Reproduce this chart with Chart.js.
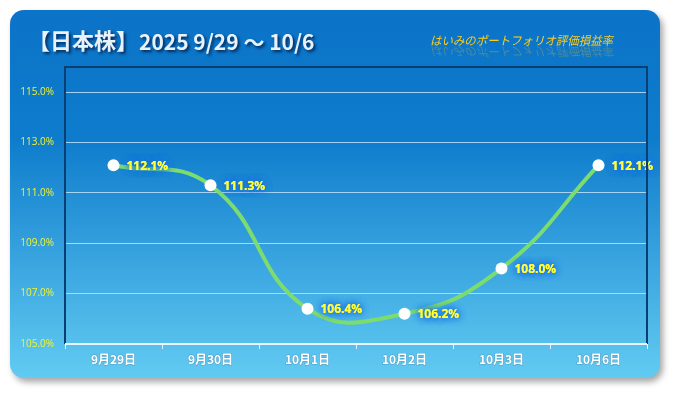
<!DOCTYPE html>
<html>
<head>
<meta charset="utf-8">
<script src="https://cdn.jsdelivr.net/npm/chart.js@4.4.1/dist/chart.umd.min.js"></script>
<style>
  html, body { margin: 0; padding: 0; background: #fff; }
  #wrap { width: 675px; height: 393px; }
</style>
</head>
<body>
<div id="wrap"><canvas id="chart" width="675" height="393"></canvas></div>
<script>
const labels = ['9月29日', '9月30日', '10月1日', '10月2日', '10月3日', '10月6日'];
const values = [112.1, 111.3, 106.4, 106.2, 108.0, 112.1];
const yTicks = [105, 107, 109, 111, 113, 115];

const titleText = '【日本株】2025 9/29 〜 10/6';
const subText = 'はいみのポートフォリオ評価損益率';

function roundRect(ctx, x, y, w, h, r) {
  ctx.beginPath();
  ctx.moveTo(x + r, y);
  ctx.arcTo(x + w, y, x + w, y + h, r);
  ctx.arcTo(x + w, y + h, x, y + h, r);
  ctx.arcTo(x, y + h, x, y, r);
  ctx.arcTo(x, y, x + w, y, r);
  ctx.closePath();
}

// card background + titles
const cardPlugin = {
  id: 'card',
  beforeDraw(chart) {
    const ctx = chart.ctx;
    ctx.save();
    ctx.shadowColor = 'rgba(0,0,0,0.35)';
    ctx.shadowBlur = 6;
    ctx.shadowOffsetX = 3;
    ctx.shadowOffsetY = 4;
    const g = ctx.createLinearGradient(0, 10, 0, 378);
    g.addColorStop(0, '#0b73c8');
    g.addColorStop(0.35, '#0e7ccc');
    g.addColorStop(1, '#62cbf2');
    ctx.fillStyle = g;
    roundRect(ctx, 10, 10, 650, 368, 14);
    ctx.fill();
    ctx.restore();

    // title: brackets part + condensed date part
    ctx.save();
    ctx.textBaseline = 'middle';
    ctx.shadowColor = 'rgba(0,20,60,0.8)';
    ctx.shadowBlur = 3;
    ctx.shadowOffsetX = 2;
    ctx.shadowOffsetY = 2;
    ctx.fillStyle = '#e8f2fa';
    ctx.font = 'bold 22px "Noto Sans CJK JP"';
    ctx.fillText('【日本株】', 28, 41);
    ctx.font = 'bold 21px "Noto Sans CJK JP"';
    ctx.fillText(titleText.replace('【日本株】', ''), 139, 42, 182);
    ctx.restore();

    // subtitle with reflection
    ctx.save();
    ctx.font = 'italic 12px "Noto Sans CJK JP"';
    ctx.textBaseline = 'alphabetic';
    ctx.fillStyle = '#ffcc1a';
    ctx.fillText(subText, 430, 45, 183);
    ctx.translate(0, 92);
    ctx.scale(1, -1);
    ctx.globalAlpha = 0.25;
    ctx.fillText(subText, 430, 45, 183);
    ctx.restore();
  },
  afterDraw(chart) {
    const ctx = chart.ctx;
    const a = chart.chartArea;
    ctx.save();
    ctx.strokeStyle = '#0b3f73';
    ctx.lineWidth = 2;
    ctx.beginPath();
    ctx.moveTo(a.left, a.bottom);
    ctx.lineTo(a.left, a.top);
    ctx.lineTo(a.right, a.top);
    ctx.lineTo(a.right, a.bottom);
    ctx.stroke();
    ctx.strokeStyle = '#e8f6ff';
    ctx.beginPath();
    ctx.moveTo(a.left, a.bottom);
    ctx.lineTo(a.right, a.bottom);
    ctx.stroke();
    ctx.restore();
  }
};

// value labels to the right of each point
const valueLabels = {
  id: 'valueLabels',
  afterDatasetsDraw(chart) {
    const ctx = chart.ctx;
    const meta = chart.getDatasetMeta(0);
    ctx.save();
    ctx.font = 'bold 12px "Open Sans"';
    ctx.textBaseline = 'middle';
    meta.data.forEach((pt, i) => {
      const txt = values[i].toFixed(1) + '%';
      const x = pt.x + 13, y = pt.y + 1;
      ctx.shadowColor = '#1f6fe6';
      ctx.shadowBlur = 7;
      ctx.fillStyle = '#ffff33';
      for (let k = 0; k < 3; k++) ctx.fillText(txt, x, y);
    });
    ctx.restore();
  }
};

// drop shadow on the x labels
const xLabelShadow = {
  id: 'xLabelShadow',
  beforeDraw(chart) {
    chart.scales.x._shadowed = true;
  }
};

new Chart(document.getElementById('chart').getContext('2d'), {
  type: 'line',
  data: {
    labels,
    datasets: [{
      data: values,
      borderColor: '#7ddc6e',
      borderWidth: 4,
      tension: 0.45,
      pointRadius: 6,
      pointHoverRadius: 6,
      pointBackgroundColor: '#ffffff',
      pointBorderColor: '#ffffff',
      pointBorderWidth: 0
    }]
  },
  options: {
    responsive: false,
    animation: false,
    events: [],
    layout: { padding: { left: 0, top: 67, right: 28, bottom: 0 } },
    plugins: {
      legend: { display: false },
      tooltip: { enabled: false }
    },
    scales: {
      x: {
        offset: true,
        grid: {
          offset: true,
          drawOnChartArea: false,
          drawTicks: true,
          tickLength: 5,
          color: '#e8f6ff'
        },
        border: { display: false },
        ticks: {
          color: '#ffffff',
          textStrokeColor: 'rgba(40,80,120,0.35)',
          textStrokeWidth: 1,
          font: { family: '"Noto Sans CJK JP"', size: 12, weight: 'bold' },
          padding: 3
        },
        afterFit(scale) { scale.height = 49; }
      },
      y: {
        min: 105,
        max: 116,
        afterBuildTicks(scale) { scale.ticks = yTicks.map(v => ({ value: v })); },
        grid: { color: 'rgba(190,225,250,0.85)', lineWidth: 1, drawTicks: false },
        border: { display: false },
        ticks: {
          color: '#f4f42a',
          font: { family: '"Open Sans"', size: 10 },
          padding: 11,
          callback: v => v.toFixed(1) + '%'
        },
        afterFit(scale) { scale.width = 65; }
      }
    }
  },
  plugins: [cardPlugin, valueLabels]
});
</script>
</body>
</html>
